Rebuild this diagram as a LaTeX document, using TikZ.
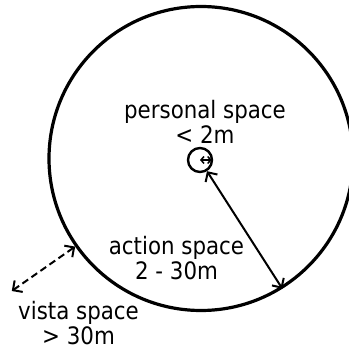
\documentclass[tikz,border=0pt]{standalone}
\usepackage{fontspec}
\setmainfont{DejaVu Sans}[FakeStretch=0.89]
\usetikzlibrary{arrows.meta}

\begin{document}
\begin{tikzpicture}[x=1pt,y=1pt,font=\fontsize{24}{25}\selectfont,
  zone/.style={draw,circle,inner sep=0pt},
  spacelabel/.style={align=center,inner sep=0pt},
  span/.style={{Straight Barb[length=7pt,width=14pt]}-{Straight Barb[length=7pt,width=14pt]},line width=2pt},
  smallspan/.style={{Straight Barb[length=3pt,width=7pt]}-{Straight Barb[length=3pt,width=7pt]},line width=1.5pt}]
\useasboundingbox (0,0) rectangle (349,346);
% the spaces
\node[zone,line width=3.2pt,minimum size=304pt] (action) at (201,187.5) {};
\node[zone,line width=2.4pt,minimum size=24pt] (personal) at (200,186) {};
\coordinate (vista) at ([shift={(215:231)}]action.center);

% labels
\node[spacelabel] (personallabel) at (205,224.1) {personal space\\< 2m};
\node[spacelabel] (actionlabel) at (176.5,88.3) {action space\\2 - 30m};
\node[spacelabel] (vistalabel) at (78.5,23.4) {vista space\\> 30m};

% distances
\draw[smallspan,shorten >=1.5pt] (personal.center) -- (personal.east);
\draw[span] (personal.-58) -- (action.-58);
\draw[span,dash pattern=on 7pt off 4pt] (action.215) -- (vista);
\end{tikzpicture}
\end{document}
